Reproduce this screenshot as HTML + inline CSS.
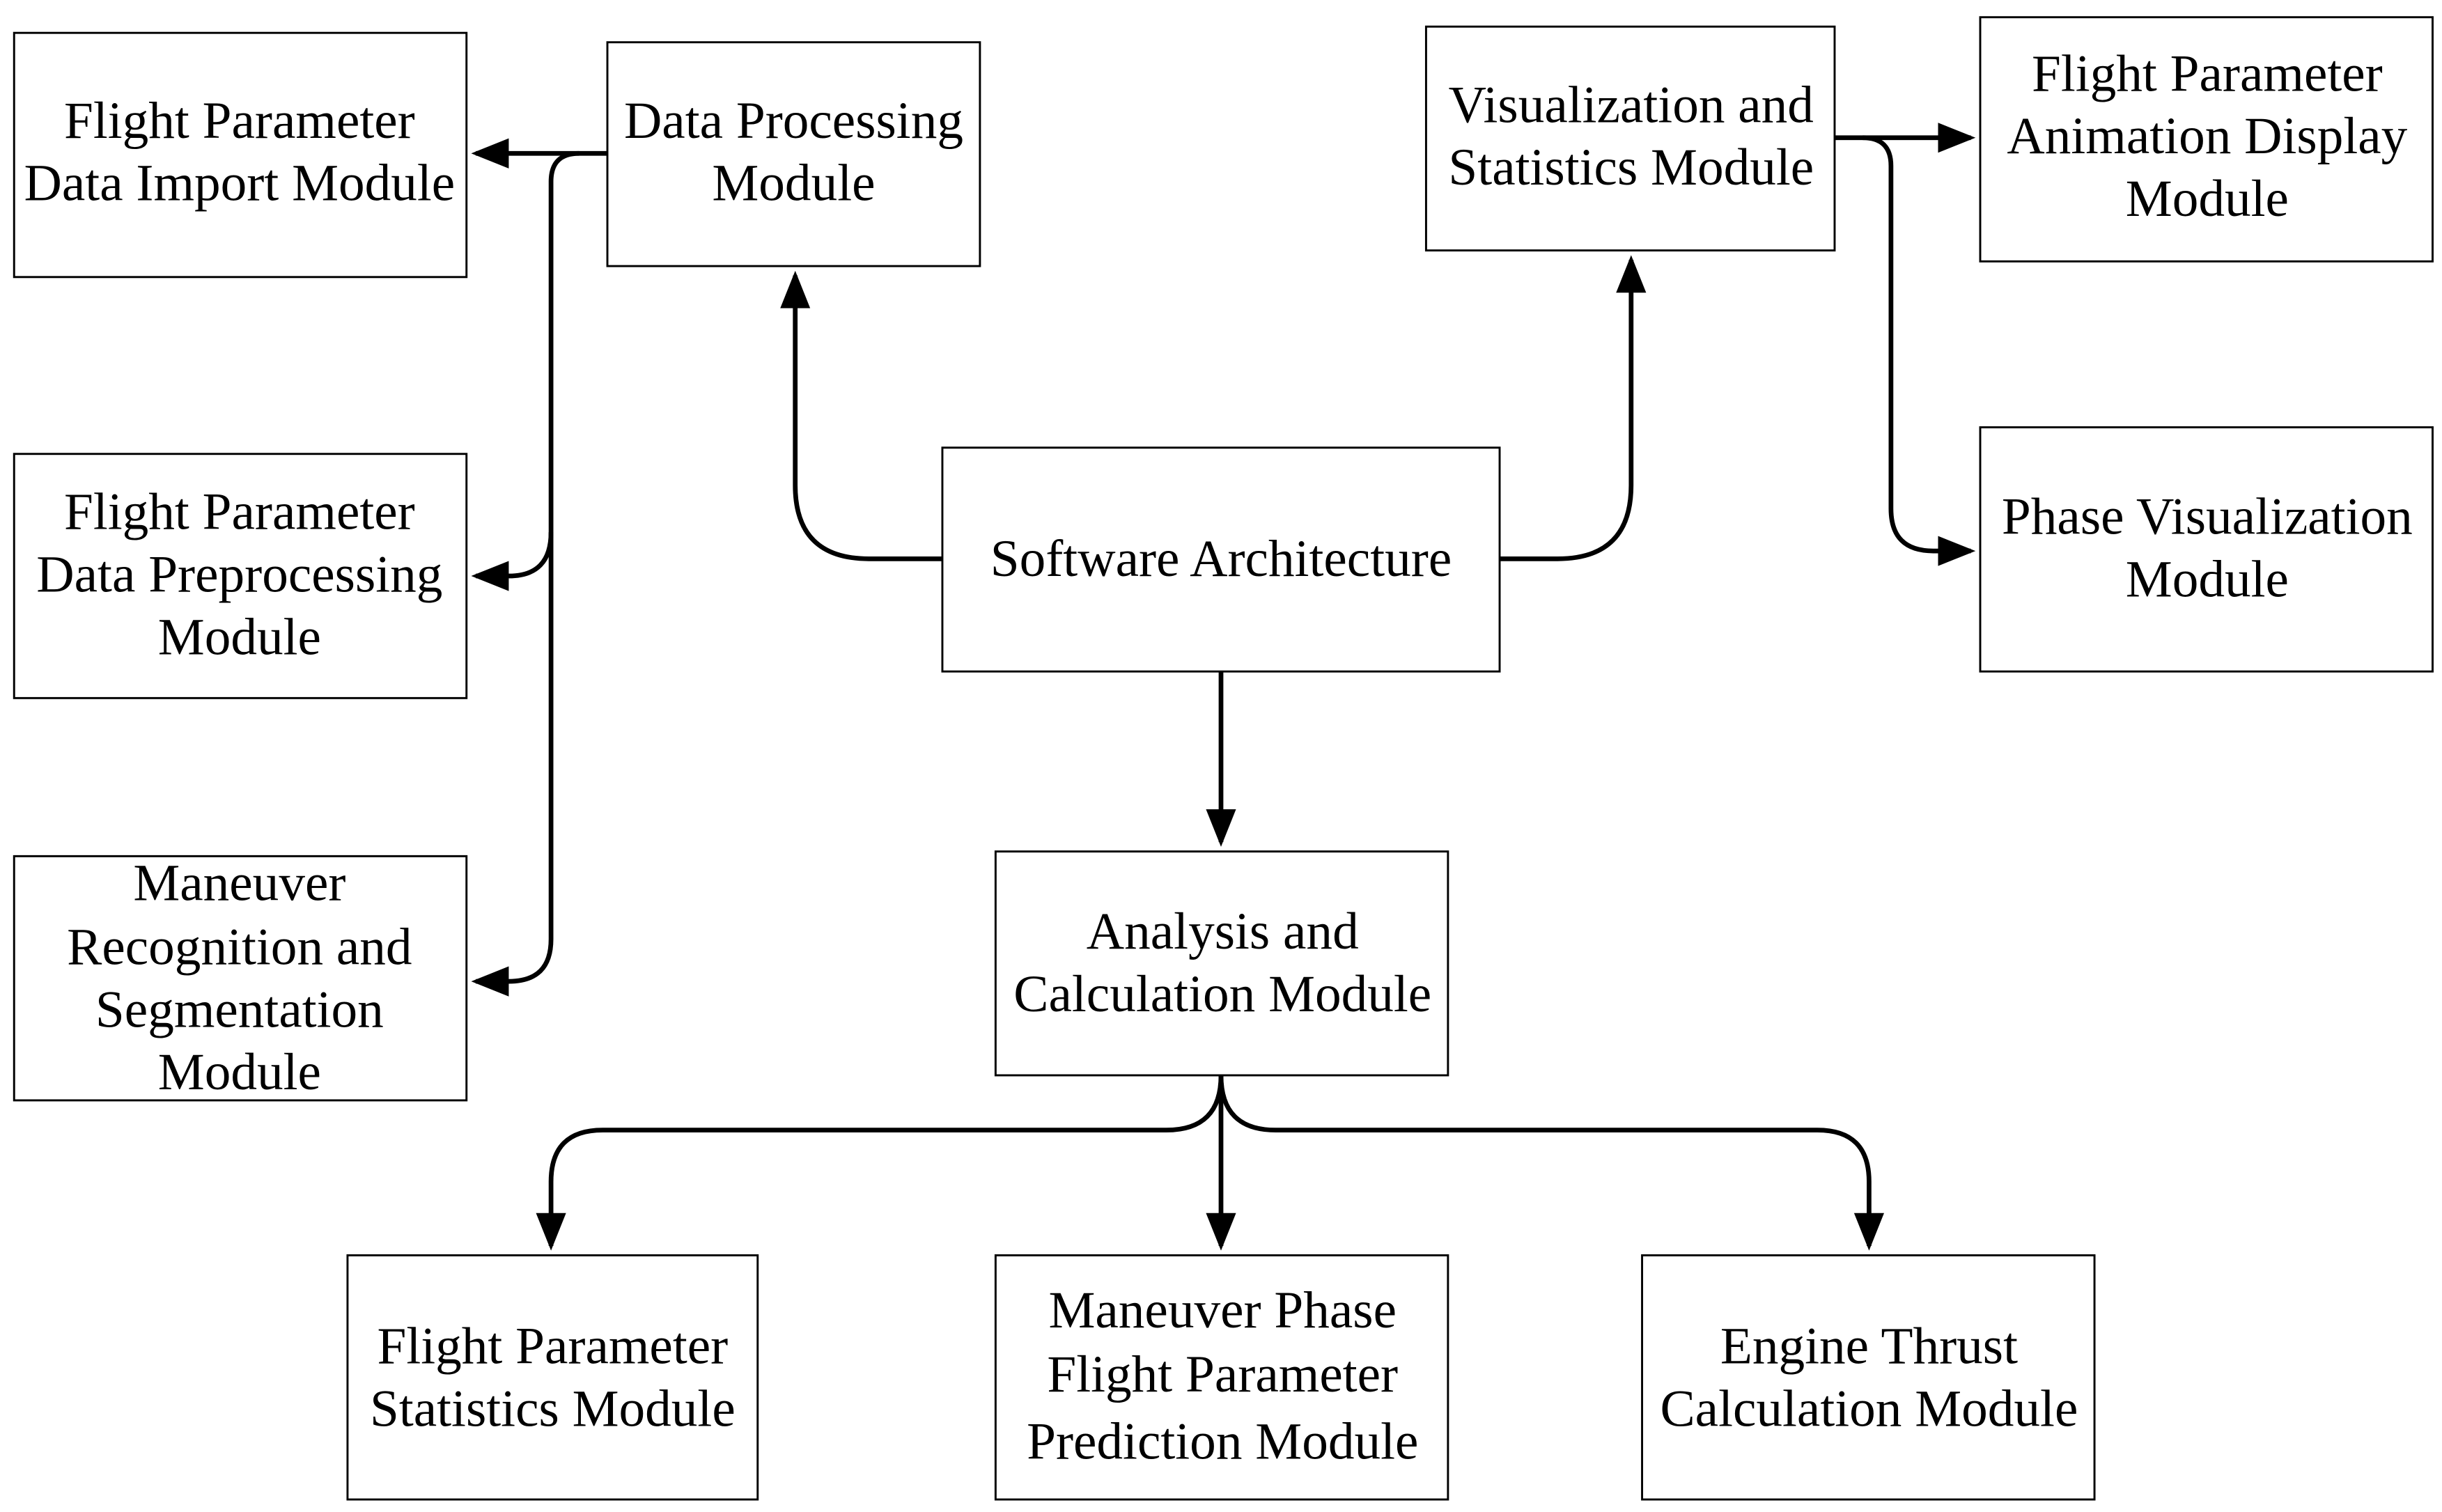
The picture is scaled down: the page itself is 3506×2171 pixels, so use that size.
<!DOCTYPE html>
<html><head><meta charset="utf-8"><style>
html,body{margin:0;padding:0;background:#fff;}
svg{display:block;}
text{font-family:"Liberation Serif",serif;font-size:33.5px;fill:#000;text-anchor:middle;}
</style></head><body>
<svg width="3506" height="2171" viewBox="0 0 1560 966" xmlns="http://www.w3.org/2000/svg">
<defs>
<marker id="a" markerWidth="8" markerHeight="8" refX="7" refY="4" orient="auto" markerUnits="strokeWidth">
<path d="M0,0.8 L8,4 L0,7.2 Z" fill="#000"/>
</marker>
</defs>
<g fill="#fff" stroke="#000" stroke-width="1.3">
<rect x="9" y="21" width="289" height="156"/>
<rect x="388" y="27" width="238" height="143"/>
<rect x="911" y="17" width="261" height="143"/>
<rect x="1265" y="11" width="289" height="156"/>
<rect x="9" y="290" width="289" height="156"/>
<rect x="602" y="286" width="356" height="143"/>
<rect x="1265" y="273" width="289" height="156"/>
<rect x="9" y="547" width="289" height="156"/>
<rect x="636" y="544" width="289" height="143"/>
<rect x="222" y="802" width="262" height="156"/>
<rect x="636" y="802" width="289" height="156"/>
<rect x="1049" y="802" width="289" height="156"/>
</g>
<g fill="none" stroke="#000" stroke-width="3">
<path d="M602 357 H555 Q508 357 508 310 V176" marker-end="url(#a)"/>
<path d="M958 357 H995 Q1042 357 1042 310 V166" marker-end="url(#a)"/>
<path d="M780 429 V538" marker-end="url(#a)"/>
<path d="M388 98 H304" marker-end="url(#a)"/>
<path d="M370 98 Q352 98 352 116 V600 Q352 627 325 627 H304" marker-end="url(#a)"/>
<path d="M352 340 Q352 368 325 368 H304" marker-end="url(#a)"/>
<path d="M1172 88 H1259" marker-end="url(#a)"/>
<path d="M1190 88 Q1208 88 1208 106 V325 Q1208 352 1235 352 H1259" marker-end="url(#a)"/>
<path d="M780 687 V796" marker-end="url(#a)"/>
<path d="M780 687 Q780 722 745 722 H385 Q352 722 352 755 V796" marker-end="url(#a)"/>
<path d="M780 687 Q780 722 815 722 H1161 Q1194 722 1194 755 V796" marker-end="url(#a)"/>
</g>
<text x="153" y="88">Flight Parameter</text>
<text x="153" y="128">Data Import Module</text>
<text x="507" y="88">Data Processing</text>
<text x="507" y="128">Module</text>
<text x="1042" y="78">Visualization and</text>
<text x="1042" y="118">Statistics Module</text>
<text x="1410" y="58">Flight Parameter</text>
<text x="1410" y="98">Animation Display</text>
<text x="1410" y="138">Module</text>
<text x="153" y="338">Flight Parameter</text>
<text x="153" y="378">Data Preprocessing</text>
<text x="153" y="418">Module</text>
<text x="780" y="368">Software Architecture</text>
<text x="1410" y="341">Phase Visualization</text>
<text x="1410" y="381">Module</text>
<text x="153" y="575">Maneuver</text>
<text x="153" y="616">Recognition and</text>
<text x="153" y="656">Segmentation</text>
<text x="153" y="696">Module</text>
<text x="781" y="606">Analysis and</text>
<text x="781" y="646">Calculation Module</text>
<text x="353" y="871">Flight Parameter</text>
<text x="353" y="911">Statistics Module</text>
<text x="781" y="848">Maneuver Phase</text>
<text x="781" y="889">Flight Parameter</text>
<text x="781" y="932">Prediction Module</text>
<text x="1194" y="871">Engine Thrust</text>
<text x="1194" y="911">Calculation Module</text>
</svg>
</body></html>
